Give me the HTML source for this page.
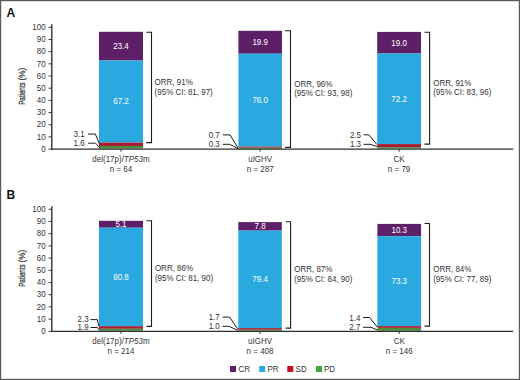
<!DOCTYPE html>
<html><head><meta charset="utf-8"><style>
html,body{margin:0;padding:0;background:#fff;}
#w{position:relative;width:520px;height:380px;overflow:hidden;background:#fff;}
svg{position:absolute;left:0;top:0;}
text{font-family:"Liberation Sans", sans-serif;}
</style></head><body><div id="w">
<svg width="520" height="380" viewBox="0 0 520 380">
<rect x="0" y="0" width="520" height="380" fill="#fff"/>
<text x="6.5" y="17" font-size="12" font-weight="bold" fill="#111">A</text>
<text x="0" y="0" transform="translate(25.4,93.60) rotate(-90) scale(0.72,1)" text-anchor="middle" font-size="8.6" fill="#333333" stroke="#333333" stroke-width="0.25">Patients</text>
<text x="0" y="0" transform="translate(25.4,74.20) rotate(-90) scale(0.95,1)" text-anchor="middle" font-size="8.6" fill="#333333" stroke="#333333" stroke-width="0.2">(%)</text>
<line x1="51.80" y1="24.30" x2="51.80" y2="149.70" stroke="#333" stroke-width="1.4"/>
<line x1="48.60" y1="149.10" x2="51.80" y2="149.10" stroke="#333" stroke-width="1.0"/>
<text transform="translate(45.60,152) scale(0.93,1)" text-anchor="end" font-size="8.6" fill="#333333" >0</text>
<line x1="48.60" y1="136.92" x2="51.80" y2="136.92" stroke="#333" stroke-width="1.0"/>
<text transform="translate(45.60,140) scale(0.93,1)" text-anchor="end" font-size="8.6" fill="#333333" >10</text>
<line x1="48.60" y1="124.74" x2="51.80" y2="124.74" stroke="#333" stroke-width="1.0"/>
<text transform="translate(45.60,127) scale(0.93,1)" text-anchor="end" font-size="8.6" fill="#333333" >20</text>
<line x1="48.60" y1="112.56" x2="51.80" y2="112.56" stroke="#333" stroke-width="1.0"/>
<text transform="translate(45.60,115) scale(0.93,1)" text-anchor="end" font-size="8.6" fill="#333333" >30</text>
<line x1="48.60" y1="100.38" x2="51.80" y2="100.38" stroke="#333" stroke-width="1.0"/>
<text transform="translate(45.60,103) scale(0.93,1)" text-anchor="end" font-size="8.6" fill="#333333" >40</text>
<line x1="48.60" y1="88.20" x2="51.80" y2="88.20" stroke="#333" stroke-width="1.0"/>
<text transform="translate(45.60,91) scale(0.93,1)" text-anchor="end" font-size="8.6" fill="#333333" >50</text>
<line x1="48.60" y1="76.02" x2="51.80" y2="76.02" stroke="#333" stroke-width="1.0"/>
<text transform="translate(45.60,79) scale(0.93,1)" text-anchor="end" font-size="8.6" fill="#333333" >60</text>
<line x1="48.60" y1="63.84" x2="51.80" y2="63.84" stroke="#333" stroke-width="1.0"/>
<text transform="translate(45.60,67) scale(0.93,1)" text-anchor="end" font-size="8.6" fill="#333333" >70</text>
<line x1="48.60" y1="51.66" x2="51.80" y2="51.66" stroke="#333" stroke-width="1.0"/>
<text transform="translate(45.60,54) scale(0.93,1)" text-anchor="end" font-size="8.6" fill="#333333" >80</text>
<line x1="48.60" y1="39.48" x2="51.80" y2="39.48" stroke="#333" stroke-width="1.0"/>
<text transform="translate(45.60,42) scale(0.93,1)" text-anchor="end" font-size="8.6" fill="#333333" >90</text>
<line x1="48.60" y1="27.30" x2="51.80" y2="27.30" stroke="#333" stroke-width="1.0"/>
<text transform="translate(45.60,30) scale(0.93,1)" text-anchor="end" font-size="8.6" fill="#333333" >100</text>
<rect x="99.00" y="31.80" width="44.00" height="28.70" fill="#5c1f68"/>
<rect x="99.00" y="60.50" width="44.00" height="82.10" fill="#2aa8e0"/>
<rect x="99.00" y="142.60" width="44.00" height="3.40" fill="#a81c34"/>
<rect x="99.00" y="146.00" width="44.00" height="2.60" fill="#4e8f3e"/>
<rect x="238.40" y="30.80" width="43.60" height="22.90" fill="#5c1f68"/>
<rect x="238.40" y="53.70" width="43.60" height="92.90" fill="#2aa8e0"/>
<rect x="238.40" y="146.60" width="43.60" height="1.10" fill="#a81c34"/>
<rect x="238.40" y="147.70" width="43.60" height="1.10" fill="#4e8f3e"/>
<rect x="377.20" y="31.90" width="43.80" height="21.60" fill="#5c1f68"/>
<rect x="377.20" y="53.50" width="43.80" height="90.60" fill="#2aa8e0"/>
<rect x="377.20" y="144.10" width="43.80" height="3.00" fill="#a81c34"/>
<rect x="377.20" y="147.10" width="43.80" height="1.50" fill="#4e8f3e"/>
<line x1="51.00" y1="149.10" x2="513.30" y2="149.10" stroke="#2e2e2e" stroke-width="1.3"/>
<line x1="121.00" y1="149.10" x2="121.00" y2="151.70" stroke="#333333" stroke-width="1.0"/>
<text transform="translate(121.00,49) scale(0.93,1)" text-anchor="middle" font-size="8.6" fill="#ffffff" >23.4</text>
<text transform="translate(121.00,104) scale(0.93,1)" text-anchor="middle" font-size="8.6" fill="#ffffff" >67.2</text>
<text transform="translate(121.00,162) scale(0.93,1)" text-anchor="middle" font-size="8.6" fill="#333333" >del(17p)/<tspan font-style="italic">TP53</tspan>m</text>
<text transform="translate(121.00,172) scale(0.93,1)" text-anchor="middle" font-size="8.6" fill="#333333" >n = 64</text>
<polyline points="146.20,32.30 151.50,32.30 151.50,142.60 146.20,142.60" fill="none" stroke="#1e1e1e" stroke-width="1.1"/>
<text transform="translate(154.60,85) scale(0.93,1)" text-anchor="start" font-size="8.6" fill="#333333" >ORR, 91%</text>
<text transform="translate(154.60,95) scale(0.93,1)" text-anchor="start" font-size="8.6" fill="#333333" >(95% CI: 81, 97)</text>
<text transform="translate(84.60,137) scale(0.93,1)" text-anchor="end" font-size="8.6" fill="#333333" >3.1</text>
<polyline points="88.00,134.00 95.30,134.00 99.40,143.80" fill="none" stroke="#1e1e1e" stroke-width="1.0"/>
<text transform="translate(84.60,146) scale(0.93,1)" text-anchor="end" font-size="8.6" fill="#333333" >1.6</text>
<polyline points="88.00,143.20 95.60,143.20 99.80,147.80" fill="none" stroke="#1e1e1e" stroke-width="1.0"/>
<line x1="260.20" y1="149.10" x2="260.20" y2="151.70" stroke="#333333" stroke-width="1.0"/>
<text transform="translate(260.20,45) scale(0.93,1)" text-anchor="middle" font-size="8.6" fill="#ffffff" >19.9</text>
<text transform="translate(260.20,103) scale(0.93,1)" text-anchor="middle" font-size="8.6" fill="#ffffff" >76.0</text>
<text transform="translate(260.20,162) scale(0.93,1)" text-anchor="middle" font-size="8.6" fill="#333333" >uIGHV</text>
<text transform="translate(260.20,172) scale(0.93,1)" text-anchor="middle" font-size="8.6" fill="#333333" >n = 287</text>
<polyline points="285.10,30.70 290.50,30.70 290.50,147.40 285.10,147.40" fill="none" stroke="#1e1e1e" stroke-width="1.1"/>
<text transform="translate(294.20,87) scale(0.93,1)" text-anchor="start" font-size="8.6" fill="#333333" >ORR, 96%</text>
<text transform="translate(294.20,96) scale(0.93,1)" text-anchor="start" font-size="8.6" fill="#333333" >(95% CI: 93, 98)</text>
<text transform="translate(219.80,138) scale(0.93,1)" text-anchor="end" font-size="8.6" fill="#333333" >0.7</text>
<polyline points="222.80,134.90 230.00,134.90 238.10,148.20" fill="none" stroke="#1e1e1e" stroke-width="1.0"/>
<text transform="translate(219.80,147) scale(0.93,1)" text-anchor="end" font-size="8.6" fill="#333333" >0.3</text>
<polyline points="222.80,144.30 229.60,144.30 238.00,148.50" fill="none" stroke="#1e1e1e" stroke-width="1.0"/>
<line x1="399.10" y1="149.10" x2="399.10" y2="151.70" stroke="#333333" stroke-width="1.0"/>
<text transform="translate(399.10,46) scale(0.93,1)" text-anchor="middle" font-size="8.6" fill="#ffffff" >19.0</text>
<text transform="translate(399.10,102) scale(0.93,1)" text-anchor="middle" font-size="8.6" fill="#ffffff" >72.2</text>
<text transform="translate(399.10,162) scale(0.93,1)" text-anchor="middle" font-size="8.6" fill="#333333" >CK</text>
<text transform="translate(399.10,172) scale(0.93,1)" text-anchor="middle" font-size="8.6" fill="#333333" >n = 79</text>
<polyline points="424.40,32.30 429.60,32.30 429.60,144.10 424.40,144.10" fill="none" stroke="#1e1e1e" stroke-width="1.1"/>
<text transform="translate(433.20,86) scale(0.93,1)" text-anchor="start" font-size="8.6" fill="#333333" >ORR, 91%</text>
<text transform="translate(433.20,95) scale(0.93,1)" text-anchor="start" font-size="8.6" fill="#333333" >(95% CI: 83, 96)</text>
<text transform="translate(361.00,138) scale(0.93,1)" text-anchor="end" font-size="8.6" fill="#333333" >2.5</text>
<polyline points="363.50,134.80 368.80,134.80 376.90,144.50" fill="none" stroke="#1e1e1e" stroke-width="1.0"/>
<text transform="translate(361.00,147) scale(0.93,1)" text-anchor="end" font-size="8.6" fill="#333333" >1.3</text>
<polyline points="363.50,144.30 370.00,144.30 377.00,146.50" fill="none" stroke="#1e1e1e" stroke-width="1.0"/>
<text x="6.5" y="199" font-size="12" font-weight="bold" fill="#111">B</text>
<text x="0" y="0" transform="translate(25.4,275.60) rotate(-90) scale(0.72,1)" text-anchor="middle" font-size="8.6" fill="#333333" stroke="#333333" stroke-width="0.25">Patients</text>
<text x="0" y="0" transform="translate(25.4,256.20) rotate(-90) scale(0.95,1)" text-anchor="middle" font-size="8.6" fill="#333333" stroke="#333333" stroke-width="0.2">(%)</text>
<line x1="51.80" y1="206.30" x2="51.80" y2="331.90" stroke="#333" stroke-width="1.4"/>
<line x1="48.60" y1="331.30" x2="51.80" y2="331.30" stroke="#333" stroke-width="1.0"/>
<text transform="translate(45.60,334) scale(0.93,1)" text-anchor="end" font-size="8.6" fill="#333333" >0</text>
<line x1="48.60" y1="319.10" x2="51.80" y2="319.10" stroke="#333" stroke-width="1.0"/>
<text transform="translate(45.60,322) scale(0.93,1)" text-anchor="end" font-size="8.6" fill="#333333" >10</text>
<line x1="48.60" y1="306.90" x2="51.80" y2="306.90" stroke="#333" stroke-width="1.0"/>
<text transform="translate(45.60,310) scale(0.93,1)" text-anchor="end" font-size="8.6" fill="#333333" >20</text>
<line x1="48.60" y1="294.70" x2="51.80" y2="294.70" stroke="#333" stroke-width="1.0"/>
<text transform="translate(45.60,297) scale(0.93,1)" text-anchor="end" font-size="8.6" fill="#333333" >30</text>
<line x1="48.60" y1="282.50" x2="51.80" y2="282.50" stroke="#333" stroke-width="1.0"/>
<text transform="translate(45.60,285) scale(0.93,1)" text-anchor="end" font-size="8.6" fill="#333333" >40</text>
<line x1="48.60" y1="270.30" x2="51.80" y2="270.30" stroke="#333" stroke-width="1.0"/>
<text transform="translate(45.60,273) scale(0.93,1)" text-anchor="end" font-size="8.6" fill="#333333" >50</text>
<line x1="48.60" y1="258.10" x2="51.80" y2="258.10" stroke="#333" stroke-width="1.0"/>
<text transform="translate(45.60,261) scale(0.93,1)" text-anchor="end" font-size="8.6" fill="#333333" >60</text>
<line x1="48.60" y1="245.90" x2="51.80" y2="245.90" stroke="#333" stroke-width="1.0"/>
<text transform="translate(45.60,249) scale(0.93,1)" text-anchor="end" font-size="8.6" fill="#333333" >70</text>
<line x1="48.60" y1="233.70" x2="51.80" y2="233.70" stroke="#333" stroke-width="1.0"/>
<text transform="translate(45.60,236) scale(0.93,1)" text-anchor="end" font-size="8.6" fill="#333333" >80</text>
<line x1="48.60" y1="221.50" x2="51.80" y2="221.50" stroke="#333" stroke-width="1.0"/>
<text transform="translate(45.60,224) scale(0.93,1)" text-anchor="end" font-size="8.6" fill="#333333" >90</text>
<line x1="48.60" y1="209.30" x2="51.80" y2="209.30" stroke="#333" stroke-width="1.0"/>
<text transform="translate(45.60,212) scale(0.93,1)" text-anchor="end" font-size="8.6" fill="#333333" >100</text>
<rect x="99.00" y="220.80" width="44.00" height="6.90" fill="#5c1f68"/>
<rect x="99.00" y="227.70" width="44.00" height="98.50" fill="#2aa8e0"/>
<rect x="99.00" y="326.20" width="44.00" height="2.60" fill="#a81c34"/>
<rect x="99.00" y="328.80" width="44.00" height="2.00" fill="#4e8f3e"/>
<rect x="238.30" y="222.10" width="43.50" height="8.50" fill="#5c1f68"/>
<rect x="238.30" y="230.60" width="43.50" height="97.50" fill="#2aa8e0"/>
<rect x="238.30" y="328.10" width="43.50" height="1.70" fill="#a81c34"/>
<rect x="238.30" y="329.80" width="43.50" height="1.00" fill="#4e8f3e"/>
<rect x="377.40" y="223.90" width="43.70" height="12.30" fill="#5c1f68"/>
<rect x="377.40" y="236.20" width="43.70" height="89.90" fill="#2aa8e0"/>
<rect x="377.40" y="326.10" width="43.70" height="1.80" fill="#a81c34"/>
<rect x="377.40" y="327.90" width="43.70" height="2.90" fill="#4e8f3e"/>
<line x1="51.00" y1="331.30" x2="513.30" y2="331.30" stroke="#2e2e2e" stroke-width="1.3"/>
<line x1="121.00" y1="331.30" x2="121.00" y2="333.90" stroke="#333333" stroke-width="1.0"/>
<text transform="translate(121.00,227) scale(0.93,1)" text-anchor="middle" font-size="8.6" fill="#ffffff" >5.1</text>
<text transform="translate(121.00,280) scale(0.93,1)" text-anchor="middle" font-size="8.6" fill="#ffffff" >80.8</text>
<text transform="translate(121.00,344) scale(0.93,1)" text-anchor="middle" font-size="8.6" fill="#333333" >del(17p)/<tspan font-style="italic">TP53</tspan>m</text>
<text transform="translate(121.00,354) scale(0.93,1)" text-anchor="middle" font-size="8.6" fill="#333333" >n = 214</text>
<polyline points="146.50,220.70 151.50,220.70 151.50,326.40 146.50,326.40" fill="none" stroke="#1e1e1e" stroke-width="1.1"/>
<text transform="translate(154.90,271) scale(0.93,1)" text-anchor="start" font-size="8.6" fill="#333333" >ORR, 86%</text>
<text transform="translate(154.90,281) scale(0.93,1)" text-anchor="start" font-size="8.6" fill="#333333" >(95% CI: 81, 90)</text>
<text transform="translate(88.70,322) scale(0.93,1)" text-anchor="end" font-size="8.6" fill="#333333" >2.3</text>
<polyline points="90.40,319.60 97.30,319.60 99.00,326.50" fill="none" stroke="#1e1e1e" stroke-width="1.0"/>
<text transform="translate(88.70,330) scale(0.93,1)" text-anchor="end" font-size="8.6" fill="#333333" >1.9</text>
<polyline points="90.40,327.50 97.50,327.50 99.30,330.00" fill="none" stroke="#1e1e1e" stroke-width="1.0"/>
<line x1="260.05" y1="331.30" x2="260.05" y2="333.90" stroke="#333333" stroke-width="1.0"/>
<text transform="translate(260.05,229) scale(0.93,1)" text-anchor="middle" font-size="8.6" fill="#ffffff" >7.8</text>
<text transform="translate(260.05,282) scale(0.93,1)" text-anchor="middle" font-size="8.6" fill="#ffffff" >79.4</text>
<text transform="translate(260.05,344) scale(0.93,1)" text-anchor="middle" font-size="8.6" fill="#333333" >uIGHV</text>
<text transform="translate(260.05,354) scale(0.93,1)" text-anchor="middle" font-size="8.6" fill="#333333" >n = 408</text>
<polyline points="285.70,221.80 290.60,221.80 290.60,328.10 285.70,328.10" fill="none" stroke="#1e1e1e" stroke-width="1.1"/>
<text transform="translate(294.20,272) scale(0.93,1)" text-anchor="start" font-size="8.6" fill="#333333" >ORR, 87%</text>
<text transform="translate(294.20,282) scale(0.93,1)" text-anchor="start" font-size="8.6" fill="#333333" >(95% CI: 84, 90)</text>
<text transform="translate(219.80,320) scale(0.93,1)" text-anchor="end" font-size="8.6" fill="#333333" >1.7</text>
<polyline points="222.50,317.10 229.60,317.10 238.10,329.60" fill="none" stroke="#1e1e1e" stroke-width="1.0"/>
<text transform="translate(219.80,329) scale(0.93,1)" text-anchor="end" font-size="8.6" fill="#333333" >1.0</text>
<polyline points="222.50,326.30 229.00,326.30 238.00,330.50" fill="none" stroke="#1e1e1e" stroke-width="1.0"/>
<line x1="399.25" y1="331.30" x2="399.25" y2="333.90" stroke="#333333" stroke-width="1.0"/>
<text transform="translate(399.25,233) scale(0.93,1)" text-anchor="middle" font-size="8.6" fill="#ffffff" >10.3</text>
<text transform="translate(399.25,284) scale(0.93,1)" text-anchor="middle" font-size="8.6" fill="#ffffff" >73.3</text>
<text transform="translate(399.25,344) scale(0.93,1)" text-anchor="middle" font-size="8.6" fill="#333333" >CK</text>
<text transform="translate(399.25,354) scale(0.93,1)" text-anchor="middle" font-size="8.6" fill="#333333" >n = 146</text>
<polyline points="424.50,223.50 429.50,223.50 429.50,326.10 424.50,326.10" fill="none" stroke="#1e1e1e" stroke-width="1.1"/>
<text transform="translate(433.20,272) scale(0.93,1)" text-anchor="start" font-size="8.6" fill="#333333" >ORR, 84%</text>
<text transform="translate(433.20,282) scale(0.93,1)" text-anchor="start" font-size="8.6" fill="#333333" >(95% CI: 77, 89)</text>
<text transform="translate(360.40,321) scale(0.93,1)" text-anchor="end" font-size="8.6" fill="#333333" >1.4</text>
<polyline points="363.00,317.50 369.60,317.50 377.30,327.00" fill="none" stroke="#1e1e1e" stroke-width="1.0"/>
<text transform="translate(360.40,330) scale(0.93,1)" text-anchor="end" font-size="8.6" fill="#333333" >2.7</text>
<polyline points="363.00,327.30 371.00,327.30 377.50,330.00" fill="none" stroke="#1e1e1e" stroke-width="1.0"/>
<rect x="230.00" y="366.00" width="6.00" height="6.00" fill="#5c1f68"/>
<text transform="translate(238.50,372) scale(0.93,1)" text-anchor="start" font-size="8.6" fill="#333333" >CR</text>
<rect x="259.20" y="366.00" width="6.00" height="6.00" fill="#2aa8e0"/>
<text transform="translate(267.40,372) scale(0.93,1)" text-anchor="start" font-size="8.6" fill="#333333" >PR</text>
<rect x="287.30" y="366.00" width="6.00" height="6.00" fill="#c40c24"/>
<text transform="translate(295.60,372) scale(0.93,1)" text-anchor="start" font-size="8.6" fill="#333333" >SD</text>
<rect x="316.00" y="366.00" width="6.00" height="6.00" fill="#3ca83c"/>
<text transform="translate(324.00,372) scale(0.93,1)" text-anchor="start" font-size="8.6" fill="#333333" >PD</text>
<rect x="0.6" y="0.6" width="518.8" height="378.8" fill="none" stroke="#5a5a5a" stroke-width="1.2"/>
</svg></div></body></html>
